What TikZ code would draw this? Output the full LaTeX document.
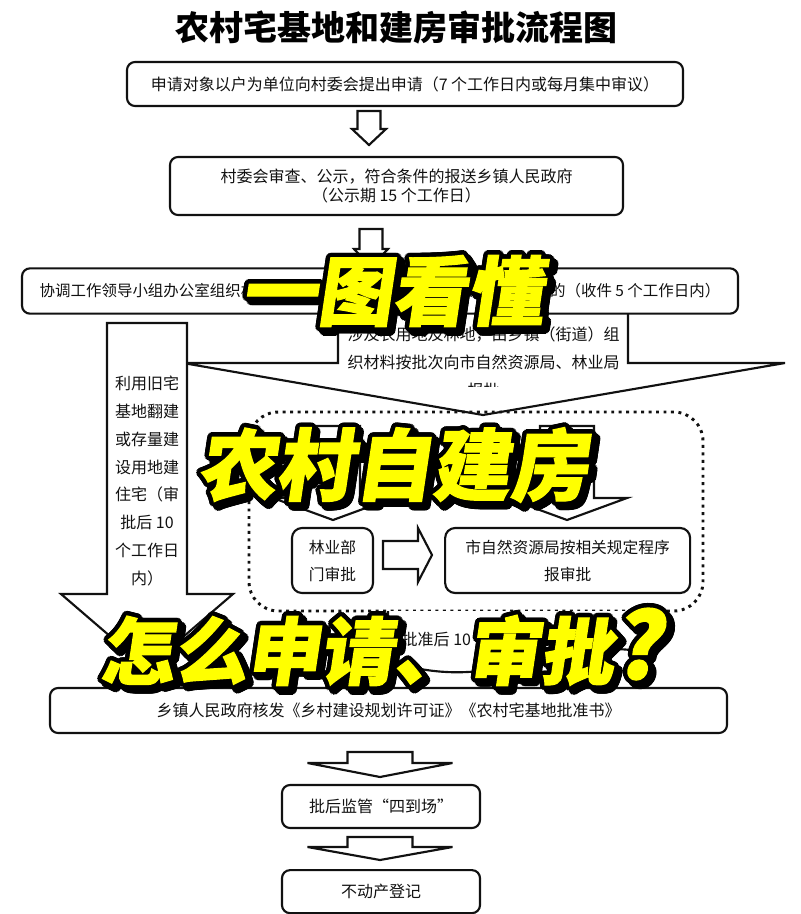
\documentclass[tikz,border=0pt]{standalone}
\usepackage{fontspec}
\setmainfont{Noto Sans CJK SC}
\newfontfamily\popface[FakeSlant=0.15,FakeBold=1.5]{Noto Sans CJK SC}
\usetikzlibrary{positioning,calc}
\definecolor{ink}{HTML}{111111}
\definecolor{popyellow}{HTML}{FFFF00}
\tikzset{
  every node/.style={font=\fontsize{12pt}{14.25pt}\selectfont,text=ink},
  box/.style={draw=ink,line width=1.6pt,rounded corners=6pt,fill=white,align=center,inner sep=0pt},
  innerbox/.style={box,rounded corners=7.5pt,font=\fontsize{11.8pt}{20.25pt}\selectfont},
  arrowtext/.style={align=center,inner sep=0pt,font=\fontsize{12pt}{21pt}\selectfont},
  blockarrow/.style={draw=ink,line width=1.6pt,fill=white,line join=miter},
  dotbox/.style={draw=ink,line width=2.2pt,dash pattern=on 2.2pt off 3.4pt,rounded corners=22pt},
  titletext/.style={font=\bfseries\fontsize{25.5pt}{30pt}\selectfont,text=black},
  popword/.style={inner sep=0pt},
}
% hollow down arrow: x, top, tip, shaft half width, head half width, head length
\newcommand{\downblock}[6]{%
  \draw[blockarrow] (#1-#4,#2) -- (#1+#4,#2) -- (#1+#4,#3-#6) -- (#1+#5,#3-#6)
    -- (#1,#3) -- (#1-#5,#3-#6) -- (#1-#4,#3-#6) -- cycle;}
% yellow caption with black outline and shadow: name, centre, size, text
\newcommand{\bigword}[4]{%
  \foreach \ang in {0,20,...,340}{
    \node[popword,font=\popface\bfseries\fontsize{#3}{#3}\selectfont,text=black] (#1-s\ang) at ($(#2)+(\ang:4.5)+(4,4)$) {#4};
  }
  \foreach \ang in {0,20,...,340}{
    \node[popword,font=\popface\bfseries\fontsize{#3}{#3}\selectfont,text=black] (#1-o\ang) at ($(#2)+(\ang:4.5)$) {#4};
  }
  \node[popword,font=\popface\bfseries\fontsize{#3}{#3}\selectfont,text=popyellow] (#1) at (#2) {#4};
}
\newcommand{\bigq}{{\fontsize{68pt}{68pt}\selectfont ?}}

\begin{document}
\begin{tikzpicture}[x=0.75pt,y=-0.75pt]
\useasboundingbox (0,0) rectangle (800,914);
\node[titletext] (title) at (396,28) {农村宅基地和建房审批流程图};

% application and village review
\node[box,minimum width=417pt,minimum height=33pt] (apply) at (405,84) {申请对象以户为单位向村委会提出申请（7 个工作日内或每月集中审议）};
\downblock{369}{111}{145}{11.5}{17}{16}
\node[box,minimum width=339.75pt,minimum height=43.5pt] (village) at (396.5,186) {村委会审查、公示，符合条件的报送乡镇人民政府\\（公示期 15 个工作日）};
\downblock{371}{229}{267}{11.5}{17}{18}

% farmland / forest land branch
\filldraw[blockarrow] (628,312) -- (628,363) -- (785,363) -- (483,415) -- (183,363) -- (338,363) -- (338,312);
\begin{scope}
\clip (330,312) rectangle (640,386);
\node[arrowtext] (farmland) at (483.5,362) {涉及农用地及林地，由乡镇（街道）组\\织材料按批次向市自然资源局、林业局\\报批};
\end{scope}
\node[box,minimum width=537pt,minimum height=34pt,font=\fontsize{11.6pt}{14pt}\selectfont] (office) at (380,291) {协调工作领导小组办公室组织相关部门联审，审查意见报乡镇人民政府审批的（收件 5 个工作日内）};

% old site branch
\downblock{147}{323}{668}{40}{86}{74}
\node[arrowtext,font=\fontsize{12pt}{20.9pt}\selectfont] (oldsite) at (147,481) {利用旧宅\\基地翻建\\或存量建\\设用地建\\住宅（审\\批后 10\\个工作日\\内）};

% approval group
\draw[dotbox] (249,412) rectangle (703,611);
\downblock{333}{426}{520}{27}{60}{22}
\downblock{567}{426}{520}{27}{60}{22}
\node[innerbox,minimum width=60.75pt,minimum height=48.75pt] (forestry) at (332.5,560.5) {林业部\\门审批};
\node[innerbox,minimum width=183.75pt,minimum height=48.75pt,right=52.5pt of forestry] (resource) {市自然资源局按相关规定程序\\报审批};
\draw[blockarrow] (383,541) -- (418,541) -- (418,528) -- (432,555) -- (418,582) -- (418,569) -- (383,569) -- cycle;

% after approval
\filldraw[blockarrow] (645,611) -- (645,652) .. controls (612,646) and (565,648) .. (520,662)
  .. controls (480,676) and (430,676) .. (388,660) -- (388,611);
\node[anchor=west] (approved) at (397,639) {批准后 10 个工作日内};

% permits and supervision
\node[box,minimum width=507.75pt,minimum height=33.75pt] (issue) at (388.5,710.5) {乡镇人民政府核发《乡村建设规划许可证》《农村宅基地批准书》};
\downblock{380}{752}{777}{32.5}{72.5}{14}
\node[box,minimum width=148.5pt,minimum height=32.25pt] (supervise) at (381,806.5) {批后监管“四到场”};
\downblock{380}{837}{860}{32.5}{72.5}{13}
\node[box,minimum width=148.5pt,minimum height=32.25pt,below=30pt of supervise] (register) {不动产登记};

% overlay captions
\coordinate (w1) at (392,291);
\coordinate (w2) at (393,465);
\coordinate (w3) at (381,647);
\bigword{seeall}{w1}{56.5pt}{一图看懂}
\bigword{selfbuild}{w2}{58.5pt}{农村自建房}
\bigword{howto}{w3}{55pt}{怎么申请、审批\bigq}
\end{tikzpicture}
\end{document}
